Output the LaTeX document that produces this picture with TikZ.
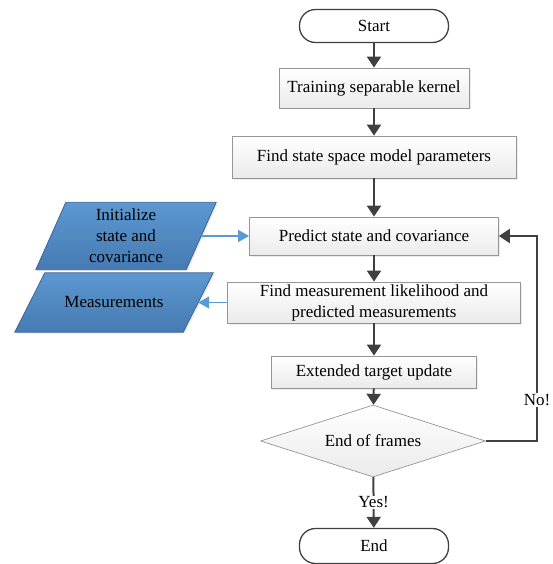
\documentclass[tikz,border=0pt]{standalone}
\usepackage{fontspec}
\setmainfont{Liberation Serif}
\usetikzlibrary{arrows.meta, positioning, shapes.geometric, shadows, backgrounds}
\definecolor{lineGray}{RGB}{64,64,64}
\definecolor{boxBorder}{RGB}{150,150,150}
\definecolor{ioLight}{RGB}{92,152,208}
\definecolor{ioDark}{RGB}{70,122,178}
\definecolor{ioBorder}{RGB}{60,100,150}
\definecolor{ioArrow}{RGB}{91,155,213}
\newcommand{\fs}{\fontsize{17}{21}\selectfont}

\begin{document}
\begin{tikzpicture}[
  x=1pt, y=-1pt,
  box/.style={rectangle, draw=boxBorder, line width=0.7pt, top color=white, bottom color=gray!16,
              drop shadow={shadow xshift=1.5pt, shadow yshift=-1.5pt, fill=gray!30},
              minimum height=40pt, inner sep=1pt, align=center, font=\fs},
  terminal/.style={rectangle, rounded corners=16pt, draw=lineGray, line width=1.3pt, fill=white,
              minimum width=149pt, minimum height=33pt, font=\fs},
  decision/.style={diamond, draw=boxBorder, line width=0.7pt, top color=white, bottom color=gray!16,
              minimum width=225pt, minimum height=72pt, inner sep=0pt, aspect=3, font=\fs},
  io/.style={rectangle, inner sep=0pt, align=center, font=\fs},
  ioshape/.style={draw=ioBorder, line width=0.8pt, top color=ioLight, bottom color=ioDark,
              drop shadow={shadow xshift=1.5pt, shadow yshift=-1.5pt, fill=gray!30}},
  arrow/.style={-{Triangle[length=11pt, width=14pt]}, line width=2pt, lineGray},
  barrow/.style={-{Triangle[length=11pt, width=12pt]}, line width=1.5pt, ioArrow},
  tag/.style={fill=white, inner sep=1pt, text=black, font=\fs}
]
\useasboundingbox (0,0) rectangle (553,564);

% main column
\node[terminal] (start) at (374,26) {Start};
\node[box, minimum width=190pt] (train) at (374,88) {Training separable kernel};
\node[box, minimum width=284pt, minimum height=42pt] (params) at (374,157) {Find state space model parameters};
\node[box, minimum width=249pt, minimum height=38pt] (predict) at (374,236) {Predict state and covariance};
\node[box, minimum width=293pt, minimum height=41pt] (meas) at (374,302.5) {Find measurement likelihood and\\predicted measurements};
\node[box, minimum width=205pt, minimum height=32pt] (update) at (374,372) {Extended target update};
\node[decision] (frames) at (373,441) {End of frames};
\node[terminal, minimum height=35pt] (finish) at (374,546) {End};

% inputs and outputs (slanted sides 30pt)
\node[io, minimum width=150pt, minimum height=67pt] (init) at (126,236) {Initialize\\state and\\covariance};
\node[io, minimum width=168pt, minimum height=59pt] (data) at (114,302.5) {Measurements};
\begin{scope}[on background layer]
  \foreach \n in {init, data}
    \draw[ioshape] ([xshift=15pt]\n.north west) -- ([xshift=15pt]\n.north east)
      -- ([xshift=-15pt]\n.south east) -- ([xshift=-15pt]\n.south west) -- cycle;
\end{scope}
\coordinate (loop) at (537,441);

\draw[arrow] (start)--(train);
\draw[arrow] (train)--(params);
\draw[arrow] (params)--(predict);
\draw[arrow] (predict)--(meas);
\draw[arrow] (meas)--(update);
\draw[arrow] (update)--(frames);
\draw[arrow] (frames)-- node[tag] (yes) {Yes!} (finish);
\draw[arrow] (frames.east)--(loop) |- node[tag, pos=0.1] (no) {No!} (predict.east);
\draw[barrow] (init)--(predict);
\draw[barrow] (meas.west)--(data);
\end{tikzpicture}
\end{document}
